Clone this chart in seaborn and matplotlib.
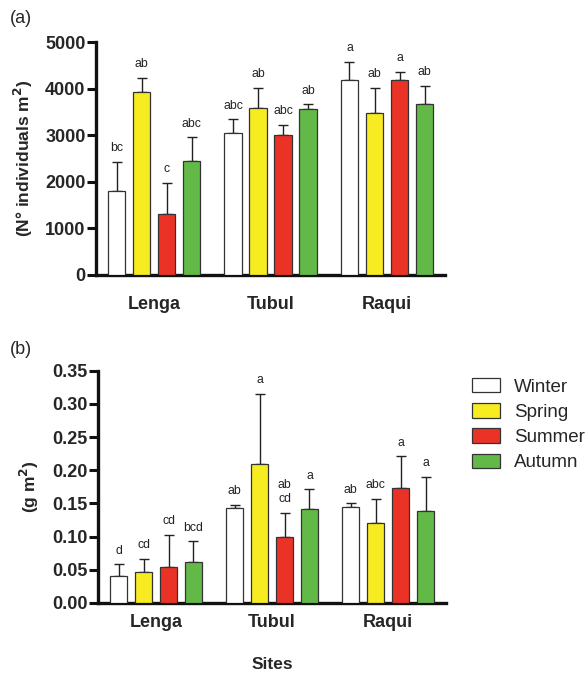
import numpy as np
import pandas as pd
import matplotlib
matplotlib.use("Agg")
import matplotlib.pyplot as plt
import seaborn as sns

sns.set_style("ticks")
plt.rcParams["font.family"] = ["Liberation Sans", "DejaVu Sans"]

# ---------------------------------------------------------
# data
# ---------------------------------------------------------
sites = ["Lenga", "Tubul", "Raqui"]
seasons = ["Winter", "Spring", "Summer", "Autumn"]
colors = ["#ffffff", "#f7eb22", "#ea3326", "#62b947"]

# (a) density, N individuals m2  -- rows = season, cols = site
dens_mean = [[1810, 3050, 4185],
             [3920, 3585, 3480],
             [1310, 3005, 4185],
             [2445, 3555, 3670]]
dens_err = [[620, 290, 390],
            [310, 440, 545],
            [670, 220, 180],
            [510, 110, 395]]
dens_letters = [["bc", "abc", "a"],
                ["ab", "ab", "ab"],
                ["c", "abc", "a"],
                ["abc", "ab", "ab"]]

# (b) biomass, g m2
bio_mean = [[0.040, 0.143, 0.145],
            [0.047, 0.210, 0.121],
            [0.054, 0.099, 0.173],
            [0.062, 0.142, 0.139]]
bio_err = [[0.018, 0.005, 0.005],
           [0.019, 0.105, 0.036],
           [0.049, 0.037, 0.048],
           [0.031, 0.029, 0.051]]
bio_letters = [["d", "ab", "ab"],
               ["cd", "a", "abc"],
               ["cd", "ab\ncd", "a"],
               ["bcd", "a", "a"]]


def to_frame(means):
    rows = []
    for i, season in enumerate(seasons):
        for j, site in enumerate(sites):
            rows.append({"Site": site, "Season": season, "value": means[i][j]})
    return pd.DataFrame(rows)


def bar_panel(ax, means, errs, letters, ylim, yticks, ylabel, tick_fmt, legend):
    df = to_frame(means)
    sns.barplot(data=df, x="Site", y="value", hue="Season", order=sites,
                hue_order=seasons, palette=colors, saturation=1,
                edgecolor="#333333", linewidth=0.9, width=0.86, gap=0.3,
                errorbar=None, legend=legend, ax=ax, zorder=3)

    # upper error bars + significance letters
    bar_groups = list(ax.containers)
    for i, cont in enumerate(bar_groups):
        xs = [b.get_x() + b.get_width() / 2 for b in cont]
        m = np.array(means[i])
        e = np.array(errs[i])
        ax.errorbar(xs, m, yerr=[np.zeros_like(e), e], fmt="none",
                    ecolor="#222222", elinewidth=1.0, capsize=3.3,
                    capthick=1.0, zorder=2)
        for x, top, lab in zip(xs, m + e, letters[i]):
            ax.annotate(lab, (x, top), xytext=(0, 5.5), textcoords="offset points",
                        ha="center", va="bottom", fontsize=8.8,
                        color="#222222", linespacing=1.2)

    ax.set_xlim(-0.5, 2.5)
    ax.set_ylim(*ylim)
    ax.set_yticks(yticks)
    ax.set_yticklabels([tick_fmt.format(t) for t in yticks],
                       fontweight="bold", fontsize=13)
    ax.set_ylabel(ylabel, fontweight="bold", fontsize=12.5)
    ax.set_xlabel("")
    for lab in ax.get_xticklabels():
        lab.set_fontweight("bold")
        lab.set_fontsize(13)
    sns.despine(ax=ax)
    for s in ["left", "bottom"]:
        ax.spines[s].set_linewidth(2.4)
        ax.spines[s].set_color("#111111")
    ax.tick_params(axis="y", length=6.5, width=2.2, pad=1, color="#111111")
    ax.tick_params(axis="x", length=0)


fig = plt.figure(figsize=(5.87, 6.74), dpi=100)
ax1 = fig.add_axes([0.1635, 0.592, 0.595, 0.3455])
ax2 = fig.add_axes([0.167, 0.1055, 0.593, 0.3445])

bar_panel(ax1, dens_mean, dens_err, dens_letters, (0, 5000),
          [0, 1000, 2000, 3000, 4000, 5000],
          "(N\u00b0 individuals m$^{\\mathbf{2}}$)", "{:.0f}", False)
ax1.tick_params(axis="x", pad=15)
ax1.yaxis.set_label_coords(-0.175, 0.5)

bar_panel(ax2, bio_mean, bio_err, bio_letters, (0, 0.35),
          [0.0, 0.05, 0.10, 0.15, 0.20, 0.25, 0.30, 0.35],
          "(g m$^{\\mathbf{2}}$)", "{:.2f}", True)
ax2.tick_params(axis="x", pad=8)
ax2.yaxis.set_label_coords(-0.164, 0.5)
ax2.set_xlabel("Sites", fontweight="bold", fontsize=12.5, labelpad=19)

leg = ax2.get_legend()
handles = leg.legend_handles
leg.remove()
fig.legend(handles, seasons, loc="upper left",
           bbox_to_anchor=(472 / 587, 1 - 378 / 674), frameon=False,
           fontsize=13.5, handlelength=1.5, handleheight=0.8,
           labelspacing=0.4, handletextpad=0.75, borderpad=0,
           borderaxespad=0)
for h in handles:
    h.set_edgecolor("#333333")
    h.set_linewidth(0.9)

fig.text(0.017, 0.972, "(a)", fontsize=13, va="center")
fig.text(0.017, 0.482, "(b)", fontsize=13, va="center")

fig.savefig("out.png", dpi=100)
